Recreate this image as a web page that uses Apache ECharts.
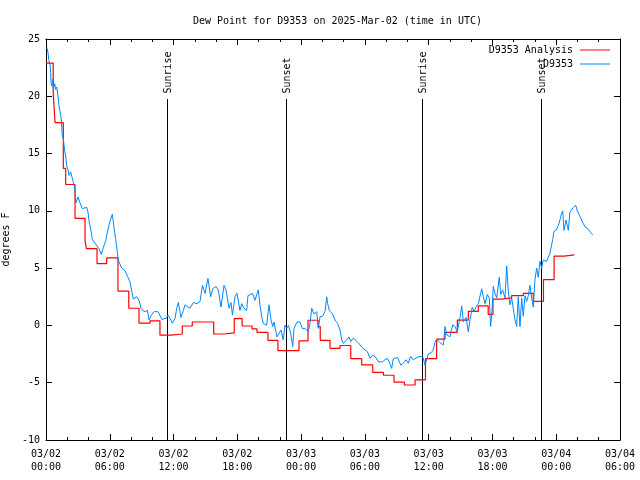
<!DOCTYPE html>
<html>
<head>
<meta charset="utf-8">
<script src="https://cdn.jsdelivr.net/npm/echarts@6/dist/echarts.min.js"></script>
<style>html,body{margin:0;padding:0;background:#fff}#c{width:640px;height:480px}</style>
</head>
<body>
<div id="c"></div>
<script>
// Hours since 2025-03-02 00:00 UTC
const redHours = [0, 0.68, 0.85, 1.63, 1.85, 2.73, 3.67, 3.8, 4.8, 5.71, 6.77, 7.79, 8.75, 9.78, 10.72, 11.76, 12.82, 13.76, 15.78, 16.77, 17.71, 18.45, 19.38, 19.85, 20.88, 21.82, 23.8, 24.65, 25.6, 25.8, 26.72, 27.66, 28.67, 29.7, 30.74, 31.74, 32.74, 33.71, 34.72, 35.7, 36.75, 37.54, 38.7, 39.73, 40.67, 41.6, 42.05, 42.9, 43.8, 44.9, 45.84, 46.8, 47.8, 48.75, 49.7];
const redValues = [22.9, 20.3, 17.7, 13.7, 12.3, 9.35, 7.45, 6.7, 5.4, 5.9, 3.0, 1.5, 0.2, 0.4, -0.85, -0.75, -0.05, 0.3, -0.75, -0.65, 0.6, -0.05, -0.3, -0.6, -1.3, -2.2, -1.35, 0.45, -0.1, -1.3, -2.0, -1.75, -2.9, -3.45, -4.1, -4.35, -4.95, -5.2, -4.75, -2.9, -1.2, -0.6, 0.47, 1.23, 1.7, 0.97, 2.3, 2.4, 2.6, 2.8, 2.1, 4.0, 6.05, 6.15, 6.15];

const obsHours = [0.07,0.19,0.25,0.38,0.44,0.47,0.54,0.63,0.69,0.82,0.91,1.01,1.13,1.22,1.32,1.44,1.53,1.63,1.76,1.85,1.95,2.07,2.16,2.32,2.47,2.57,2.70,2.82,3.01,3.20,3.41,3.57,3.83,3.95,4.05,4.21,4.36,4.52,4.68,4.83,4.99,5.20,5.39,5.62,5.77,5.93,6.09,6.24,6.33,6.46,6.56,6.71,6.80,7.12,7.43,7.69,7.90,8.21,8.53,8.75,8.94,9.22,9.55,9.69,9.92,10.16,10.54,10.72,10.91,11.10,11.29,11.48,11.67,11.88,12.14,12.30,12.45,12.70,12.92,13.08,13.36,13.55,13.86,14.21,14.49,14.72,14.96,15.24,15.49,15.68,15.99,16.21,16.46,16.75,16.93,17.22,17.40,17.54,17.78,17.97,18.25,18.41,18.63,18.88,19.00,19.43,19.66,19.82,19.97,20.13,20.29,20.44,20.76,20.98,21.17,21.33,21.45,21.73,22.11,22.32,22.48,22.64,22.81,23.02,23.21,23.33,23.61,23.89,24.13,24.37,24.53,24.68,24.84,25.00,25.21,25.47,25.62,25.78,26.01,26.25,26.41,26.50,26.65,26.95,27.19,27.42,27.66,27.82,27.97,28.13,28.29,28.50,28.66,28.91,29.26,29.54,29.82,30.24,30.48,30.73,30.95,31.30,31.67,31.89,32.11,32.30,32.52,32.67,33.07,33.37,33.61,33.87,34.08,34.31,34.55,35.00,35.44,35.65,35.81,35.96,36.22,36.43,36.59,36.75,37.06,37.38,37.54,37.69,38.00,38.26,38.48,38.69,38.95,39.11,39.26,39.51,39.73,39.89,40.10,40.26,40.45,40.67,40.83,40.99,41.14,41.30,41.52,41.70,41.83,41.96,42.08,42.24,42.40,42.64,42.78,42.96,43.18,43.34,43.49,43.65,43.81,44.12,44.28,44.43,44.59,44.75,44.90,45.06,45.22,45.37,45.53,45.69,45.84,46.00,46.16,46.31,46.47,46.63,46.78,47.10,47.41,47.67,47.79,47.98,48.19,48.35,48.51,48.61,48.73,48.92,49.14,49.29,49.45,49.61,49.83,49.98,50.24,50.49,50.71,51.02,51.24,51.43];
const obsValues = [24.3,23.8,23.2,22.8,22.1,21.2,20.9,21.5,20.6,21.1,20.6,20.8,20.0,19.2,18.7,18.0,16.6,16.3,15.2,14.8,13.9,13.6,13.1,13.4,13.5,12.5,12.0,10.7,11.2,10.7,10.2,10.2,10.3,9.9,9.1,8.4,7.5,7.4,7.1,7.0,6.7,6.2,6.8,7.4,8.1,8.8,9.3,9.7,9.7,8.1,7.5,6.4,5.7,5.0,4.8,4.25,3.8,2.3,2.5,2.2,1.5,1.2,1.3,0.5,0.9,1.2,1.2,1.1,0.5,0.6,0.6,0.9,0.6,0.2,0.6,1.5,2.0,0.7,1.3,1.8,1.6,1.5,2.0,1.9,2.1,3.5,2.8,4.1,2.5,3.2,3.4,3.1,1.6,3.5,3.1,1.5,2.0,0.9,2.5,2.8,1.3,1.9,1.5,1.3,2.6,2.8,2.2,2.65,3.1,1.8,0.76,0.18,0.03,1.8,0.47,-0.1,0.3,-1.0,-0.4,-1.27,0.03,-0.26,0.0,-0.7,-1.86,-0.26,0.3,0.3,-0.3,-0.26,-0.4,-0.55,0.18,1.5,1.0,1.2,-0.26,0.76,0.8,1.2,2.5,1.9,1.3,1.0,0.47,0.2,-0.4,-1.27,-1.56,-1.7,-1.27,-1.0,-1.4,-1.1,-1.4,-1.7,-2.0,-2.3,-2.87,-2.6,-2.7,-3.2,-3.17,-3.0,-2.87,-3.2,-3.75,-2.9,-2.8,-3.46,-3.3,-3.0,-3.3,-2.7,-3.0,-2.75,-2.7,-3.46,-3.0,-2.5,-2.4,-2.15,-1.5,-1.2,-1.5,-1.7,-0.1,-0.8,-1.0,0.05,-0.1,-0.55,0.7,1.7,0.3,0.7,-0.55,0.5,1.6,1.2,1.6,1.9,1.9,3.2,2.5,1.9,2.7,2.4,-0.1,1.3,3.4,2.8,2.4,4.2,2.7,3.1,2.4,5.2,3.0,1.8,2.4,0.5,-0.1,2.5,-0.1,2.4,0.8,2.6,2.1,2.6,3.5,2.4,1.6,4.0,5.0,4.2,5.6,5.0,5.7,5.6,6.3,7.5,8.2,8.3,8.7,9.2,9.8,10.0,8.3,9.2,8.3,9.9,10.0,10.3,10.5,10.0,9.5,9.0,8.6,8.4,8.1,7.9];

const sunHours = [11.38, 22.58, 35.37, 46.57];
const sunLabels = ['Sunrise', 'Sunset', 'Sunrise', 'Sunset'];

const titleText = 'Dew Point for D9353 on 2025-Mar-02 (time in UTC)';
const FONT = 'DejaVu Sans Mono';

function fmtX(h) {
  const day = 2 + Math.floor(h / 24);
  const hh = h % 24;
  return '03/0' + day + '\n' + (hh < 10 ? '0' : '') + hh + ':00';
}

const chart = echarts.init(document.getElementById('c'), null, {renderer: 'canvas'});
const axisCommon = {
  axisLine: {show: true, onZero: false, lineStyle: {color: '#000', width: 1}},
  splitLine: {show: false},
};
chart.setOption({
  animation: false,
  backgroundColor: '#fff',
  title: {
    text: titleText, left: 188, top: 11,
    textStyle: {fontFamily: FONT, fontSize: 10, fontWeight: 'normal', color: '#000'}
  },
  legend: [
    {data: ['D9353 Analysis'], right: 30, top: 45, orient: 'vertical', align: 'right', icon: 'rect',
     itemWidth: 30, itemHeight: 1, itemGap: 4, padding: 0,
     textStyle: {fontFamily: FONT, fontSize: 10, color: '#000', padding: [0, 2, 0, 0]}},
    {data: ['D9353'], right: 30, top: 59, orient: 'vertical', align: 'right', icon: 'rect',
     itemWidth: 30, itemHeight: 1, itemGap: 4, padding: 0,
     textStyle: {fontFamily: FONT, fontSize: 10, color: '#000', padding: [0, 2, 0, 0]}}
  ],
  grid: {left: 46, right: 20, top: 39, bottom: 40, containLabel: false, outerBoundsMode: 'none'},
  xAxis: [
    Object.assign({}, axisCommon, {
      type: 'value', min: 0, max: 54, interval: 6, position: 'bottom',
      axisTick: {show: true, inside: true, length: 6, lineStyle: {color: '#000'}},
      minorTick: {show: true, splitNumber: 3, length: 3, lineStyle: {color: '#000'}},
      axisLabel: {formatter: fmtX, fontFamily: FONT, fontSize: 10, color: '#000', margin: 8, lineHeight: 13}
    }),
    Object.assign({}, axisCommon, {
      type: 'value', min: 0, max: 54, interval: 6, position: 'top',
      axisTick: {show: true, inside: true, length: 6, lineStyle: {color: '#000'}},
      minorTick: {show: true, splitNumber: 3, length: 3, lineStyle: {color: '#000'}},
      axisLabel: {show: false}
    })
  ],
  yAxis: [
    Object.assign({}, axisCommon, {
      type: 'value', min: -10, max: 25, interval: 5, position: 'left',
      name: 'degrees F', nameLocation: 'middle', nameGap: 27, nameRotate: 90,
      nameTextStyle: {fontFamily: FONT, fontSize: 10, color: '#000'},
      axisTick: {show: true, inside: true, length: 6, lineStyle: {color: '#000'}},
      axisLabel: {fontFamily: FONT, fontSize: 10, color: '#000', margin: 6}
    }),
    Object.assign({}, axisCommon, {
      type: 'value', min: -10, max: 25, interval: 5, position: 'right',
      axisTick: {show: true, inside: true, length: 6, lineStyle: {color: '#000'}},
      axisLabel: {show: false}
    })
  ],
  series: [
    {
      name: 'Sun', type: 'custom', xAxisIndex: 0, yAxisIndex: 0, silent: true, z: 1,
      data: sunHours.map((h, i) => [h, i]),
      renderItem: function (params, api) {
        const h = api.value(0);
        const idx = api.value(1);
        const top = api.coord([h, 19.8]);
        const bot = api.coord([h, -10]);
        const x = Math.round(top[0]) + 0.5;
        return {
          type: 'group',
          children: [
            {type: 'line', shape: {x1: x, y1: Math.round(top[1]), x2: x, y2: bot[1]},
             style: {stroke: '#000', lineWidth: 1}},
            {type: 'text', x: x + 1, y: top[1] - 5, rotation: Math.PI / 2,
             style: {text: sunLabels[idx], fontFamily: FONT, fontSize: 10, fill: '#000',
                     align: 'left', verticalAlign: 'middle'}}
          ]
        };
      }
    },
    {
      name: 'D9353 Analysis', type: 'line', step: 'end', showSymbol: false, symbol: 'none',
      data: redHours.map((h, i) => [h, redValues[i]]),
      lineStyle: {color: '#ff0000', width: 1.2}, itemStyle: {color: '#ff0000'}, z: 3
    },
    {
      name: 'D9353', type: 'line', showSymbol: false, symbol: 'none',
      data: obsHours.map((h, i) => [h, obsValues[i]]),
      lineStyle: {color: '#0088ff', width: 1}, itemStyle: {color: '#0088ff'}, z: 4
    }
  ]
});
</script>
</body>
</html>
